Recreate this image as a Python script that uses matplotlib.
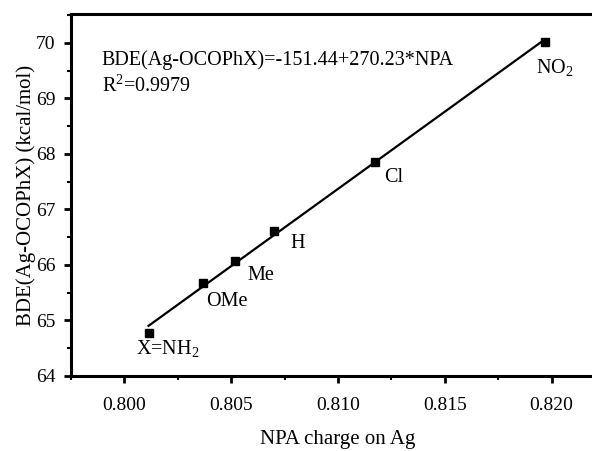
import matplotlib
matplotlib.use("Agg")
import matplotlib.pyplot as plt
import numpy as np
from matplotlib.ticker import MultipleLocator, FormatStrFormatter

plt.rcParams['font.family'] = ['Liberation Serif', 'DejaVu Serif']
plt.rcParams['mathtext.fontset'] = 'custom'
plt.rcParams['mathtext.rm'] = 'Liberation Serif'
plt.rcParams['mathtext.it'] = 'Liberation Serif:italic'

# data
substituents = ['X=NH$_2$', 'OMe', 'Me', 'H', 'Cl', 'NO$_2$']
npa_charge = [0.80113, 0.80370, 0.80518, 0.80701, 0.81172, 0.81968]
bde = [64.77, 65.67, 66.08, 66.61, 67.85, 70.02]
equation_text = 'BDE(Ag-OCOPhX)=-151.44+270.23*NPA'
r2_text = 'R$^2$=0.9979'

# label offsets in points (dx, dy)
offsets = [(-9, -15), (2, -16.5), (9, -14), (11.5, -12), (6.5, -14), (-6.5, -22.5)]

FS = 14.5

fig = plt.figure(figsize=(5.92, 4.51), dpi=100)
ax = fig.add_axes([71/592, 1-376/451, 534/592, (376-14)/451])

x = np.array(npa_charge)
y = np.array(bde)
coef = np.polyfit(x, y, 1)
xl = np.array([x.min(), x.max() - 0.0002])
ax.plot(xl, np.polyval(coef, xl), color='black', lw=1.6, zorder=2)
ax.plot(x, y, 's', color='black', ms=5.8, zorder=3)

for lab, xi, yi, (dx, dy) in zip(substituents, x, y, offsets):
    ax.annotate(lab, (xi, yi), xytext=(dx, dy), textcoords='offset points',
                ha='left', va='baseline', fontsize=FS)

ax.text(101.7/592, 1-65/451, equation_text, transform=fig.transFigure,
        ha='left', va='baseline', fontsize=FS)
ax.text(101.7/592, 1-92/451, r2_text, transform=fig.transFigure,
        ha='left', va='baseline', fontsize=FS)

ax.set_xlim(0.7975, 0.8225)
ax.set_ylim(64, 70.52)
ax.xaxis.set_major_locator(MultipleLocator(0.005))
ax.xaxis.set_minor_locator(MultipleLocator(0.0025))
ax.yaxis.set_major_locator(MultipleLocator(1))
ax.yaxis.set_minor_locator(MultipleLocator(0.5))
ax.xaxis.set_major_formatter(FormatStrFormatter('%.3f'))

for s in ['left', 'bottom', 'top', 'right']:
    ax.spines[s].set_linewidth(2.2)
ax.tick_params(which='major', direction='out', length=5, width=2, labelsize=14)
ax.tick_params(which='minor', direction='out', length=2.6, width=1.5)
ax.tick_params(axis='x', which='major', pad=10)
ax.tick_params(axis='y', which='major', pad=6)
ax.tick_params(top=False, right=False, which='both')

ax.set_xlabel('NPA charge on Ag', fontsize=15, labelpad=11.5)
ax.set_ylabel('BDE(Ag-OCOPhX) (kcal/mol)', fontsize=15, labelpad=0)

fig.savefig('out.png', dpi=100)
